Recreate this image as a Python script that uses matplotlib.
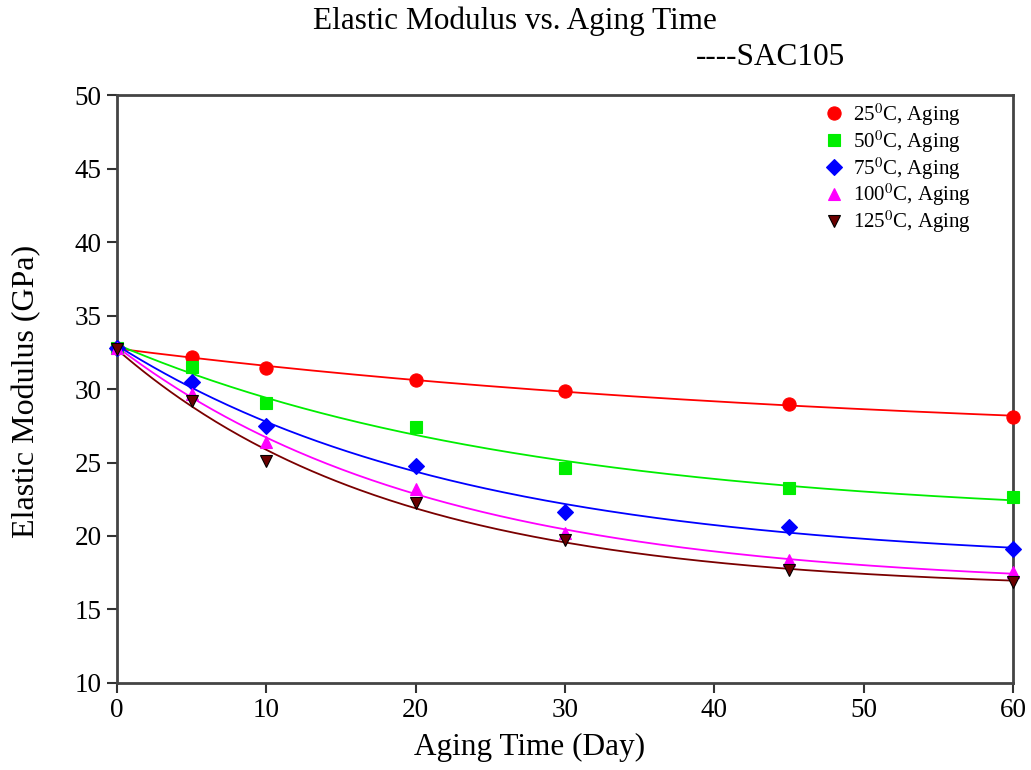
import matplotlib
matplotlib.use('Agg')
import matplotlib.pyplot as plt
import numpy as np

plt.rcParams['font.family'] = ['Liberation Serif', 'DejaVu Serif']
plt.rcParams['mathtext.fontset'] = 'stix'

# 数据
days = [0, 5, 10, 20, 30, 45, 60]
e_25 = [32.8, 32.2, 31.4, 30.6, 29.85, 29.0, 28.1]
e_50 = [32.8, 31.5, 29.05, 27.4, 24.65, 23.25, 22.65]
e_75 = [32.8, 30.45, 27.5, 24.75, 21.6, 20.6, 19.1]
e_100 = [32.8, 29.65, 26.4, 23.2, 20.2, 18.35, 17.55]
e_125 = [32.7, 29.2, 25.1, 22.25, 19.7, 17.7, 16.9]

labels = [r'25$^{0}$C, Aging', r'50$^{0}$C, Aging', r'75$^{0}$C, Aging',
          r'100$^{0}$C, Aging', r'125$^{0}$C, Aging']
series = [e_25, e_50, e_75, e_100, e_125]
line_colors = ['#ff0000', '#00ee00', '#0000ff', '#ff00ff', '#7a0000']
face_colors = ['#ff0000', '#00ee00', '#0000ff', '#ff00ff', '#6a0000']
edge_colors = ['#ff0000', '#00ee00', '#0000ff', '#ff00ff', '#000000']
markers = ['o', 's', 'D', '^', 'v']
msizes = [9.5, 8.5, 8, 9, 8.5]


def exp_fit(t, y):
    # y = a + b*exp(-t/c), 对c做网格搜索, a,b用最小二乘
    t = np.asarray(t, float)
    y = np.asarray(y, float)
    best = None
    for c in np.logspace(0, 3.5, 600):
        A = np.column_stack([np.ones_like(t), np.exp(-t / c)])
        coef, res, _, _ = np.linalg.lstsq(A, y, rcond=None)
        err = np.sum((A @ coef - y) ** 2)
        if best is None or err < best[0]:
            best = (err, coef, c)
    _, (a, b), c = best
    return lambda x: a + b * np.exp(-x / c)


fig = plt.figure(figsize=(10.31, 7.7), dpi=100)
ax = fig.add_axes([0.1135, 0.113, 0.869, 0.7636])

tt = np.linspace(0, 60, 300)
for y, lab, lc, fc, ec, m, ms in zip(series, labels, line_colors, face_colors,
                                       edge_colors, markers, msizes):
    f = exp_fit(days, y)
    ax.plot(tt, f(tt), color=lc, lw=1.3, zorder=2)
    ax.plot(days, y, linestyle='none', marker=m, markersize=ms,
            markerfacecolor=fc, markeredgecolor=ec, markeredgewidth=0.8,
            label=lab, zorder=3, clip_on=False)

ax.set_xlim(0, 60)
ax.set_ylim(10, 50)
ax.set_xticks(range(0, 61, 10))
ax.set_yticks(range(10, 51, 5))
ax.tick_params(axis='both', direction='out', length=7, width=1.5,
               color='#333333', labelsize=19.5, pad=4)
for s in ax.spines.values():
    s.set_linewidth(2)
    s.set_color('#444444')

leg = ax.legend(loc='upper left', bbox_to_anchor=(0.791, 0.879),
                bbox_transform=fig.transFigure, frameon=False, fontsize=15,
                handlelength=1.0, handletextpad=0.4, labelspacing=0.02,
                borderaxespad=0)

fig.text(0.4995, 0.973, 'Elastic Modulus vs. Aging Time', ha='center',
         va='center', fontsize=22.5)
fig.text(0.747, 0.925, '----SAC105', ha='center', va='center', fontsize=22.5)
fig.text(0.514, 0.029, 'Aging Time (Day)', ha='center', va='center',
         fontsize=22.5)
fig.text(0.026, 0.492, 'Elastic Modulus (GPa)', ha='center', va='center',
         rotation=90, fontsize=23)

plt.savefig('out.png', dpi=100)
